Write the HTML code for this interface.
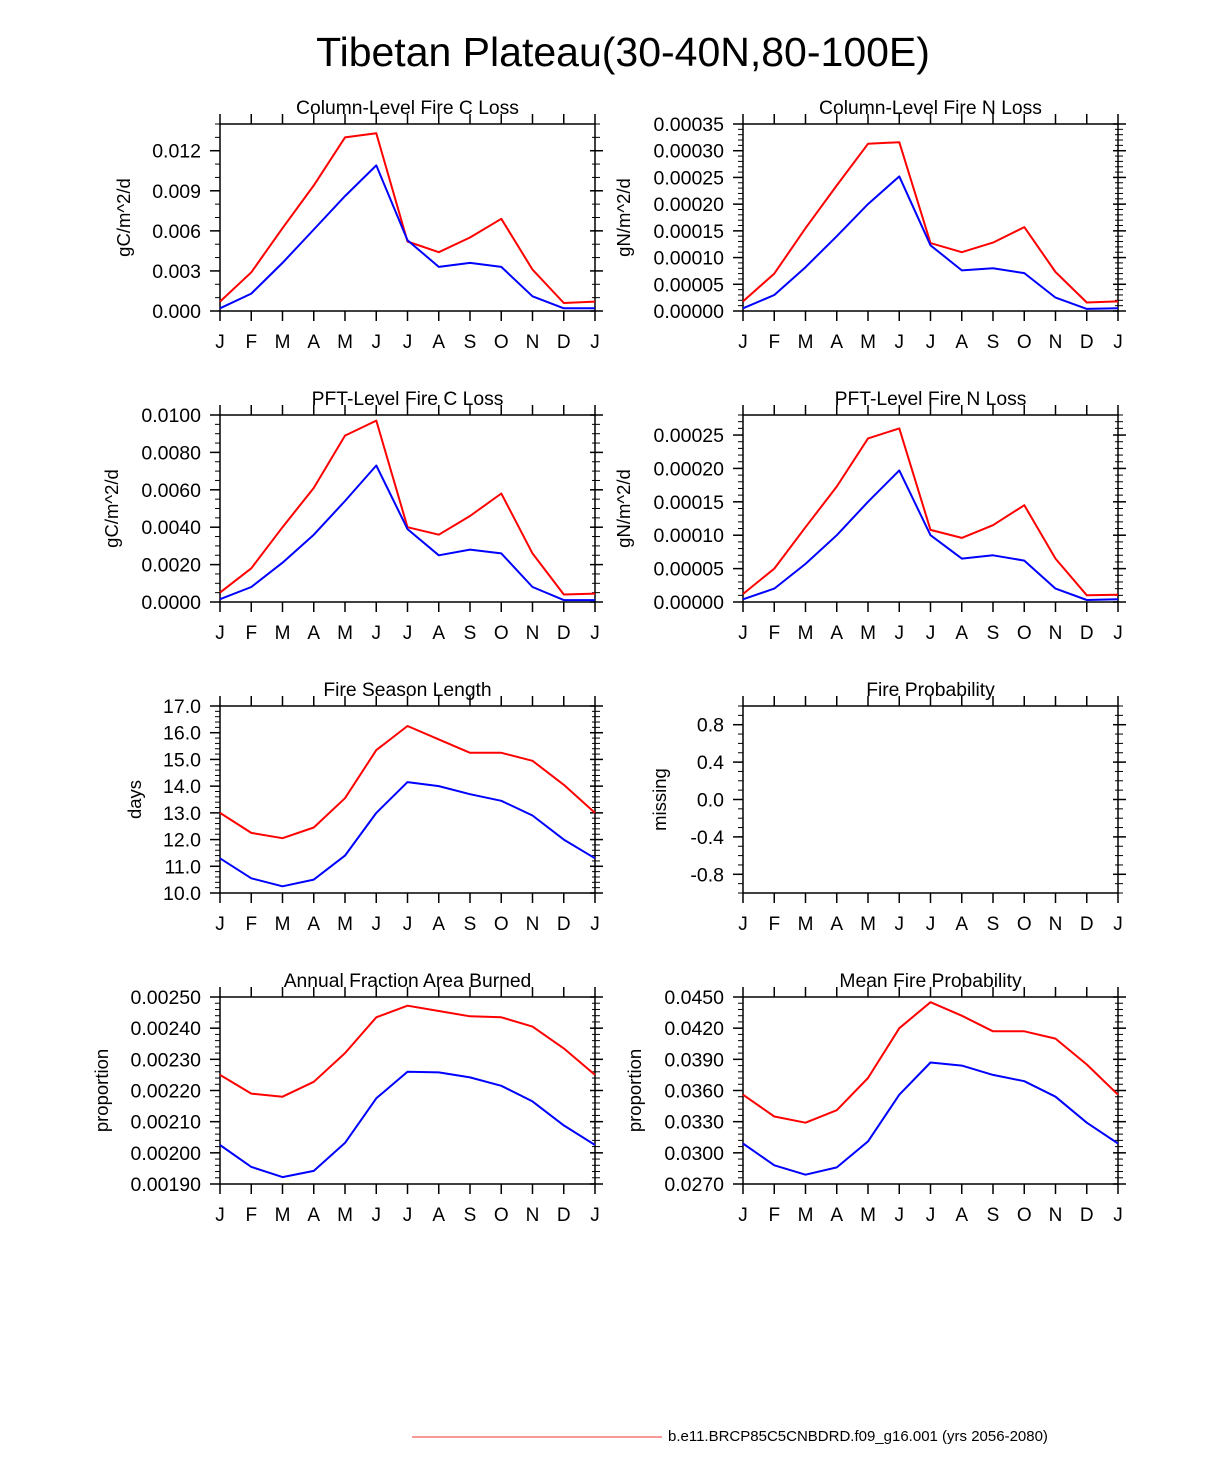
<!DOCTYPE html>
<html><head><meta charset="utf-8"><style>
html,body{margin:0;padding:0;background:#fff;}
svg{display:block;font-family:"Liberation Sans",Arial,sans-serif;}
</style></head><body>
<svg id="chart" width="1224" height="1474" viewBox="0 0 1224 1474" xmlns="http://www.w3.org/2000/svg">
<text x="623" y="66" font-size="41" text-anchor="middle">Tibetan Plateau(30-40N,80-100E)</text>
<line x1="412" y1="1437" x2="662" y2="1437" stroke="#e33" stroke-width="1"/>
<text x="668" y="1441" font-size="15">b.e11.BRCP85C5CNBDRD.f09_g16.001 (yrs 2056-2080)</text>
</svg>
<script>
const months = ["J","F","M","A","M","J","J","A","S","O","N","D","J"];
const p1Red = [0.0007,0.0029,0.0062,0.0094,0.0130,0.0133,0.0052,0.0044,0.0055,0.0069,0.0031,0.0006,0.0007];
const p1Blue = [0.0002,0.0013,0.0036,0.0061,0.0086,0.0109,0.0053,0.0033,0.0036,0.0033,0.0011,0.0002,0.0002];
const p2Red = [0.000018,0.00007,0.000155,0.000235,0.000313,0.000316,0.000127,0.00011,0.000128,0.000157,0.000073,0.000016,0.000018];
const p2Blue = [0.000005,0.00003,0.000082,0.00014,0.0002,0.000252,0.000123,0.000076,0.00008,0.000071,0.000025,0.000004,0.000005];
const p3Red = [0.0005,0.0018,0.0040,0.0061,0.0089,0.0097,0.0040,0.0036,0.0046,0.0058,0.0026,0.0004,0.00045];
const p3Blue = [0.00015,0.0008,0.0021,0.0036,0.0054,0.0073,0.0039,0.0025,0.0028,0.0026,0.0008,0.0001,0.0001];
const p4Red = [0.000012,0.00005,0.000112,0.000173,0.000245,0.00026,0.000108,0.000096,0.000115,0.000145,0.000065,0.00001,0.000011];
const p4Blue = [0.000004,0.00002,0.000057,0.0001,0.00015,0.000197,0.0001,0.000065,0.00007,0.000062,0.00002,0.000003,0.000004];
const p5Red = [13.0,12.25,12.05,12.45,13.55,15.35,16.25,15.75,15.25,15.25,14.95,14.05,13.0];
const p5Blue = [11.3,10.55,10.25,10.5,11.4,13.0,14.15,14.0,13.7,13.45,12.9,12.0,11.3];
const p7Red = [0.002250,0.002190,0.002180,0.002228,0.002320,0.002435,0.002472,0.002455,0.002438,0.002435,0.002405,0.002335,0.002250];
const p7Blue = [0.002025,0.001955,0.001922,0.001942,0.002032,0.002175,0.002260,0.002258,0.002242,0.002215,0.002165,0.002088,0.002025];
const p8Red = [0.0356,0.0335,0.0329,0.0341,0.0372,0.0420,0.0445,0.0432,0.0417,0.0417,0.0410,0.0385,0.0356];
const p8Blue = [0.0309,0.0288,0.0279,0.0286,0.0311,0.0356,0.0387,0.0384,0.0375,0.0369,0.0354,0.0329,0.0309];
const p1Ticks = ["0.000","0.003","0.006","0.009","0.012"];
const p2Ticks = ["0.00000","0.00005","0.00010","0.00015","0.00020","0.00025","0.00030","0.00035"];
const p3Ticks = ["0.0000","0.0020","0.0040","0.0060","0.0080","0.0100"];
const p4Ticks = ["0.00000","0.00005","0.00010","0.00015","0.00020","0.00025"];
const p5Ticks = ["10.0","11.0","12.0","13.0","14.0","15.0","16.0","17.0"];
const p6Ticks = ["-0.8","-0.4","0.0","0.4","0.8"];
const p7Ticks = ["0.00190","0.00200","0.00210","0.00220","0.00230","0.00240","0.00250"];
const p8Ticks = ["0.0270","0.0300","0.0330","0.0360","0.0390","0.0420","0.0450"];

const NS="http://www.w3.org/2000/svg";
const svg=document.getElementById('chart');
function mk(tag,attrs,parent){const e=document.createElementNS(NS,tag);for(const k in attrs)e.setAttribute(k,attrs[k]);(parent||svg).appendChild(e);return e;}

const panels=[
 {name:'column-c-loss',title:'Column-Level Fire C Loss',x0:220,y0:124,ymin:0,ymax:0.014,minor:0.001,ticks:p1Ticks,ylab:'gC/m^2/d',ylx:130,red:p1Red,blue:p1Blue},
 {name:'column-n-loss',title:'Column-Level Fire N Loss',x0:743,y0:124,ymin:0,ymax:0.00035,minor:0.00001,ticks:p2Ticks,ylab:'gN/m^2/d',ylx:630,red:p2Red,blue:p2Blue},
 {name:'pft-c-loss',title:'PFT-Level Fire C Loss',x0:220,y0:415,ymin:0,ymax:0.01,minor:0.0005,ticks:p3Ticks,ylab:'gC/m^2/d',ylx:118,red:p3Red,blue:p3Blue},
 {name:'pft-n-loss',title:'PFT-Level Fire N Loss',x0:743,y0:415,ymin:0,ymax:0.00028,minor:0.00001,ticks:p4Ticks,ylab:'gN/m^2/d',ylx:630,red:p4Red,blue:p4Blue},
 {name:'fire-season-length',title:'Fire Season Length',x0:220,y0:706,ymin:10,ymax:17,minor:0.2,ticks:p5Ticks,ylab:'days',ylx:141,red:p5Red,blue:p5Blue},
 {name:'fire-probability',title:'Fire Probability',x0:743,y0:706,ymin:-1,ymax:1,minor:0.1,ticks:p6Ticks,ylab:'missing',ylx:666,red:null,blue:null},
 {name:'annual-fraction-area-burned',title:'Annual Fraction Area Burned',x0:220,y0:997,ymin:0.0019,ymax:0.0025,minor:0.00002,ticks:p7Ticks,ylab:'proportion',ylx:108,red:p7Red,blue:p7Blue},
 {name:'mean-fire-probability',title:'Mean Fire Probability',x0:743,y0:997,ymin:0.027,ymax:0.045,minor:0.0006,ticks:p8Ticks,ylab:'proportion',ylx:641,red:p8Red,blue:p8Blue}
];
const W=375,H=187;
panels.forEach(p=>{
  const g=mk('g',{});
  
  
  const xs=i=>p.x0+i*W/12;
  const ys=v=>p.y0+H-(v-p.ymin)/(p.ymax-p.ymin)*H;
  const nmin=Math.round((p.ymax-p.ymin)/p.minor);
  for(let k=0;k<=nmin;k++){
    const y=ys(p.ymin+k*p.minor);
    mk('line',{x1:p.x0-5,y1:y,x2:p.x0,y2:y,stroke:'#000','stroke-width':1},g);
    mk('line',{x1:p.x0+W-3,y1:y,x2:p.x0+W+5,y2:y,stroke:'#000','stroke-width':1},g);
  }
  p.ticks.forEach(t=>{
    const y=ys(parseFloat(t));
    mk('line',{x1:p.x0-10,y1:y,x2:p.x0,y2:y,stroke:'#000','stroke-width':1.5},g);
    mk('line',{x1:p.x0+W-5,y1:y,x2:p.x0+W+8,y2:y,stroke:'#000','stroke-width':1.5},g);
    const tx=mk('text',{x:p.x0-19,y:y+7,'font-size':19.5,'text-anchor':'end'},g);
    
    
    tx.textContent=t;
  });
  months.forEach((m,i)=>{
    const x=xs(i);
    mk('line',{x1:x,y1:p.y0+H,x2:x,y2:p.y0+H+10,stroke:'#000','stroke-width':1.5},g);
    mk('line',{x1:x,y1:p.y0-10,x2:x,y2:p.y0,stroke:'#000','stroke-width':1.5},g);
    const tx=mk('text',{x:x,y:p.y0+H+37,'font-size':19,'text-anchor':'middle'},g);
    
    
    tx.textContent=m;
  });
  const box=mk('rect',{x:p.x0,y:p.y0,width:W,height:H,fill:'none',stroke:'#000','stroke-width':1.5},g);
  
  
  [['red',p.red,'#f00'],['blue',p.blue,'#00f']].forEach(([nm,arr,col])=>{
    if(!arr)return;
    const pts=arr.map((v,i)=>xs(i).toFixed(1)+','+ys(v).toFixed(1)).join(' ');
    const pl=mk('polyline',{points:pts,fill:'none',stroke:col,'stroke-width':2,'stroke-linejoin':'round'},g);
    
    
  });
  const tt=mk('text',{x:p.x0+W/2,y:p.y0-10,'font-size':19.3,'text-anchor':'middle'},g);
  
  
  tt.textContent=p.title;
  const cy=p.y0+H/2;
  const yl=mk('text',{x:p.ylx,y:cy,'font-size':18.5,'text-anchor':'middle',transform:'rotate(-90 '+p.ylx+' '+cy+')'},g);
  
  
  yl.textContent=p.ylab;
});
</script>
</body></html>
